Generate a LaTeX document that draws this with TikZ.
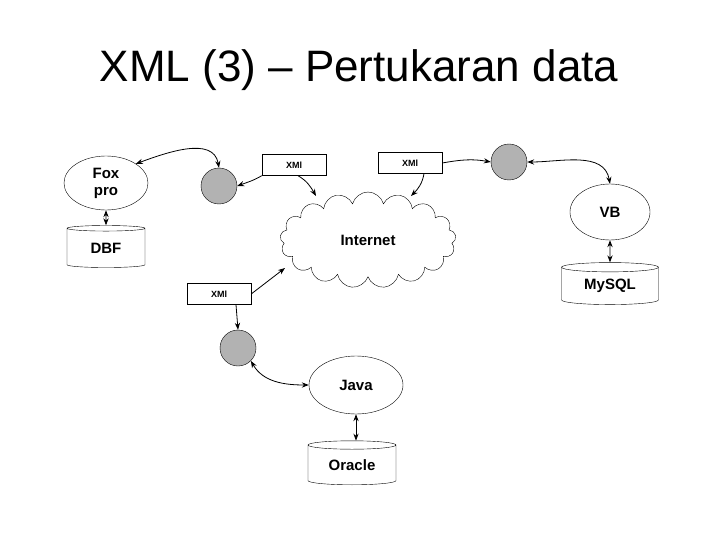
\documentclass[tikz,border=0pt]{standalone}
\usepackage{fontspec}
\setmainfont{Liberation Sans}
\usetikzlibrary{shapes.geometric,shapes.symbols,arrows.meta}

\tikzset{
  app/.style = {draw, ellipse, font=\bfseries\fontsize{15}{17}\selectfont, inner sep=0pt},
  db/.style = {draw, cylinder, shape border rotate=90, aspect=0.18,
    font=\bfseries\fontsize{15}{17}\selectfont, inner sep=0pt},
  hub/.style = {draw, circle, fill=gray!60, minimum size=36pt},
  tag/.style = {draw, font=\bfseries\fontsize{9}{10}\selectfont, minimum width=64pt, minimum height=21pt},
  link/.style = {thick, -{Stealth[length=7pt]}},
  both/.style = {thick, {Stealth[length=7pt]}-{Stealth[length=7pt]}}
}

\begin{document}
\begin{tikzpicture}[x=1pt, y=-1pt]
  \useasboundingbox (0,0) rectangle (720,540);
  \node[font=\fontsize{44}{46}\selectfont] (title) at (359,70) {XML (3) – Pertukaran data};

  % applications and databases
  \node[app, minimum width=84pt, minimum height=54pt, align=center] (fox) at (106,183) {Fox\\pro};
  \node[db, minimum width=78pt, minimum height=42pt] (dbf) at (106,248) {DBF};
  \node[app, minimum width=80pt, minimum height=56pt] (vb) at (610,212) {VB};
  \node[db, minimum width=97pt, minimum height=42pt] (mysql) at (610,286) {MySQL};
  \node[app, minimum width=94pt, minimum height=58pt] (java) at (356,385) {Java};
  \node[db, minimum width=88pt, minimum height=44pt] (oracle) at (352,465) {Oracle};

  % the net
  \node[draw, cloud, cloud puffs=17, aspect=1.8, minimum width=176pt, minimum height=96pt,
    font=\bfseries\fontsize{15}{17}\selectfont] (net) at (368,240) {Internet};

  % converters and messages
  \node[hub] (h1) at (219,186) {};
  \node[hub] (h2) at (509,162) {};
  \node[hub] (h3) at (238,348) {};
  \node[tag] (x1) at (294,165) {XMl};
  \node[tag] (x2) at (410,163) {XMl};
  \node[tag] (x3) at (219,294) {XMl};

  \draw[both] (fox.north east) to[out=20, in=100] (h1.north);
  \draw[both] (fox.south) -- (dbf.north);
  \draw[link] (x1.south west) to[out=-150, in=20] (h1.east);
  \draw[link] ([xshift=4pt]x1.south) to[out=-30, in=120] (316,196);
  \draw[link] ([xshift=14pt]x2.south) to[out=-100, in=45] (411,196);
  \draw[link] (x2.east) to[out=10, in=170] (h2.west);
  \draw[both] (h2.east) to[out=0, in=100] (vb.north);
  \draw[both] (vb.south) -- (mysql.north);
  \draw[link] (x3.east) -- (285,268);
  \draw[link] ([xshift=17pt]x3.south) -- (h3.north);
  \draw[both] (h3.south east) to[out=-60, in=180] (java.west);
  \draw[both] (java.south) -- (java.south |- oracle.north);
\end{tikzpicture}
\end{document}
